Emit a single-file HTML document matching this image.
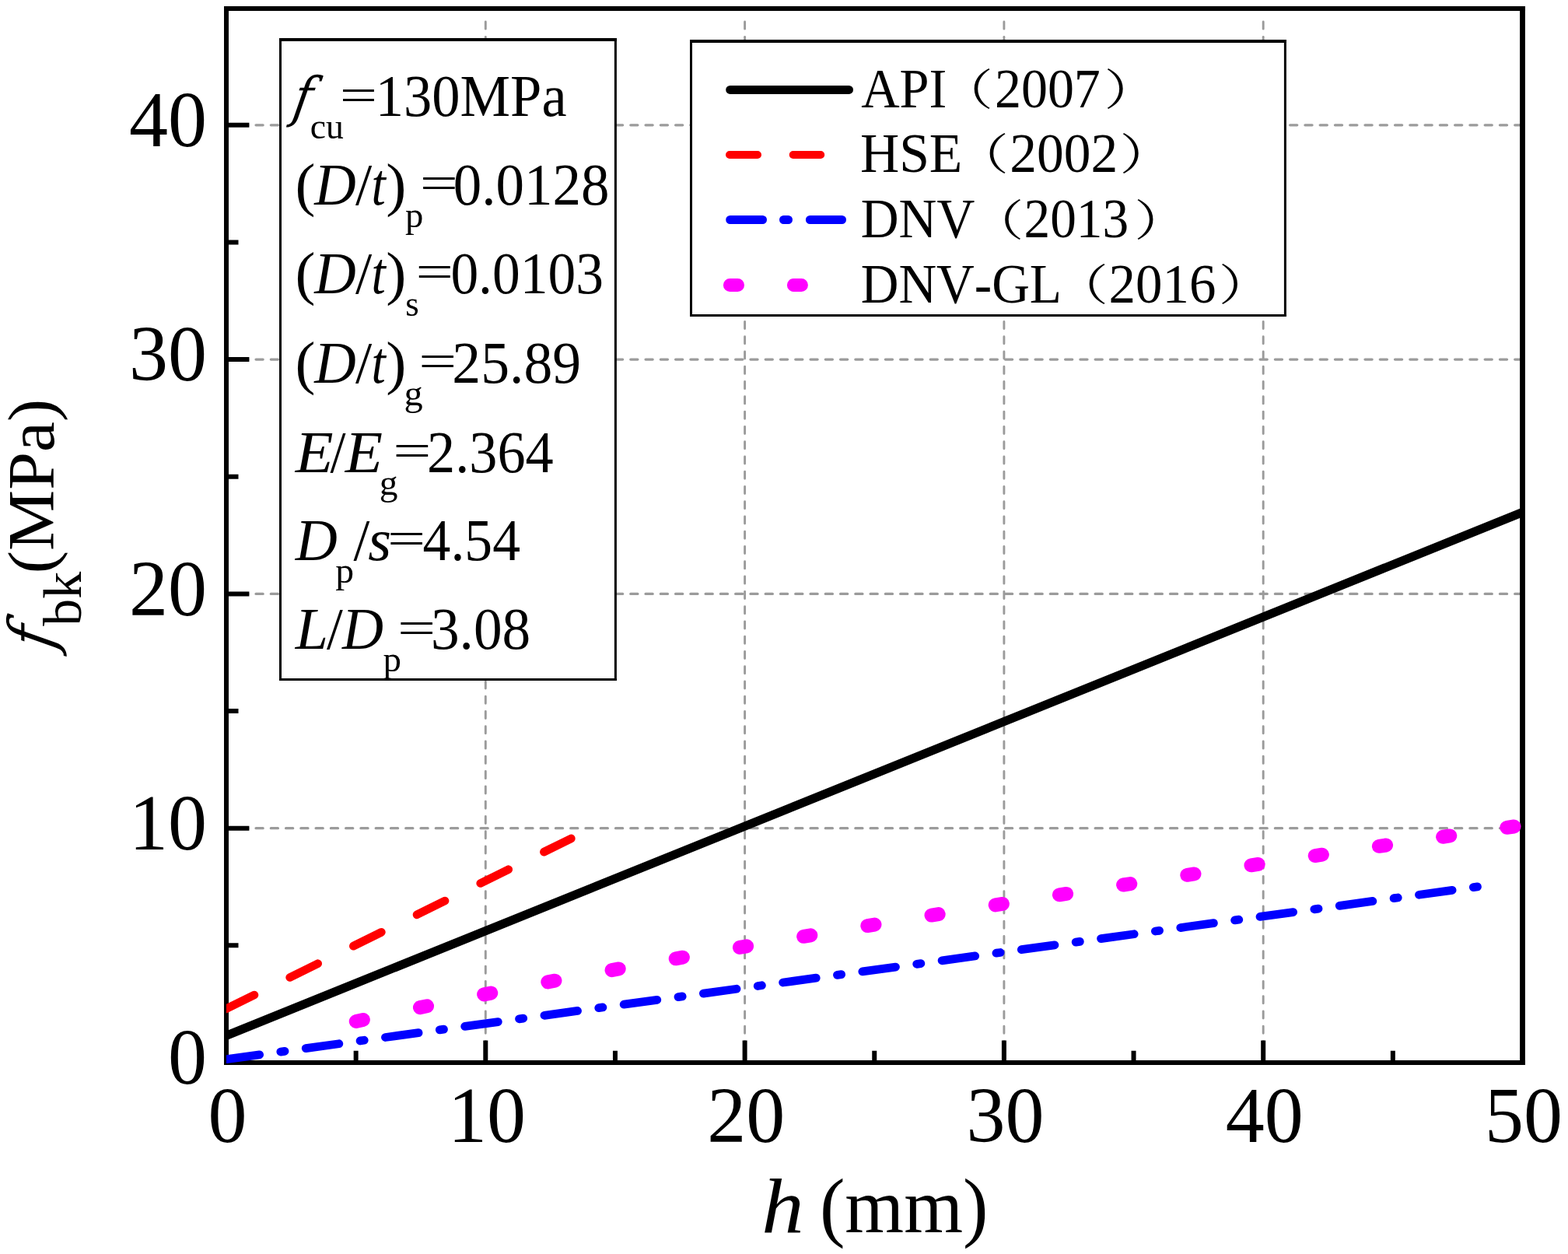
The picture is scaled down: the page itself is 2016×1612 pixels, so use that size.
<!DOCTYPE html>
<html><head><meta charset="utf-8"><title>f_bk vs h</title><style>html,body{margin:0;padding:0;background:#fff;width:2016px;height:1612px;overflow:hidden}</style></head><body>
<svg width="2016" height="1612" viewBox="0 0 2016 1612" style="position:absolute;left:0;top:0;font-family:'Liberation Serif','Times New Roman',serif;font-kerning:none">
<rect width="2016" height="1612" fill="#fff"/>
<g stroke="#9b9b9b" stroke-dasharray="9.1 10.17" stroke-dashoffset="-1.5" stroke-linecap="round" fill="none"><line x1="624.30" y1="1368.3" x2="624.30" y2="22" stroke-width="2.9"/><line x1="957.60" y1="1368.3" x2="957.60" y2="22" stroke-width="2.9"/><line x1="1290.90" y1="1368.3" x2="1290.90" y2="22" stroke-width="2.9"/><line x1="1624.20" y1="1368.3" x2="1624.20" y2="22" stroke-width="2.9"/><line x1="289" y1="1064.70" x2="1957.5" y2="1064.70" stroke-width="3.3"/><line x1="289" y1="763.40" x2="1957.5" y2="763.40" stroke-width="3.3"/><line x1="289" y1="462.10" x2="1957.5" y2="462.10" stroke-width="3.3"/><line x1="289" y1="160.80" x2="1957.5" y2="160.80" stroke-width="3.3"/></g>
<rect x="360.5" y="51.0" width="430.9" height="822.5" fill="#fff"/><g stroke="#000" fill="none"><line x1="359.0" y1="51.0" x2="792.9" y2="51.0" stroke-width="4.0"/><line x1="359.0" y1="873.5" x2="792.9" y2="873.5" stroke-width="3.0"/><line x1="360.5" y1="49.0" x2="360.5" y2="875.0" stroke-width="3.0"/><line x1="791.4" y1="49.0" x2="791.4" y2="875.0" stroke-width="3.0"/></g>
<rect x="888.5" y="53.0" width="763.9000000000001" height="352.4" fill="#fff"/><g stroke="#000" fill="none"><line x1="887.0" y1="53.0" x2="1653.9" y2="53.0" stroke-width="3.9"/><line x1="887.0" y1="405.4" x2="1653.9" y2="405.4" stroke-width="3.0"/><line x1="888.5" y1="51.05" x2="888.5" y2="406.9" stroke-width="3.0"/><line x1="1652.4" y1="51.05" x2="1652.4" y2="406.9" stroke-width="3.0"/></g>
<path d="M457.65 1366V1350.80 M624.30 1366V1337.50 M790.95 1366V1350.80 M957.60 1366V1337.50 M1124.25 1366V1350.80 M1290.90 1366V1337.50 M1457.55 1366V1350.80 M1624.20 1366V1337.50 M1790.85 1366V1350.80 M291 1215.35H306.50 M291 1064.70H320.40 M291 914.05H306.50 M291 763.40H320.40 M291 612.75H306.50 M291 462.10H320.40 M291 311.45H306.50 M291 160.80H320.40" stroke="#000" stroke-width="6" fill="none"/>
<g stroke="#000" fill="none"><path d="M288 11H1961M288 1366H1961" stroke-width="6"/><path d="M291 8V1369" stroke-width="6"/><path d="M1957.5 8V1369" stroke-width="6.8"/></g>
<clipPath id="cp"><rect x="291" y="0" width="1680" height="1400"/></clipPath>
<line x1="291" y1="1331.2" x2="1957.5" y2="658.5" stroke="#000" stroke-width="11.2" clip-path="url(#cp)"/>
<line x1="291" y1="1296.80" x2="734.3" y2="1077.94" stroke="#f00" stroke-width="10.7" stroke-dasharray="40.1 51" stroke-linecap="round" clip-path="url(#cp)"/>
<line x1="291" y1="1361.70" x2="1905" y2="1139.13" stroke="#00f" stroke-width="10.8" stroke-dasharray="43 27.5 5.2 27.5" stroke-linecap="round" clip-path="url(#cp)"/>
<path d="M457.76 1313.00L466.84 1310.95 M539.95 1295.11L549.05 1293.21 M622.14 1278.37L631.26 1276.57 M704.33 1262.44L713.47 1260.71 M786.53 1247.13L795.67 1245.46 M868.72 1232.31L877.88 1230.69 M950.92 1217.90L960.08 1216.32 M1033.11 1203.85L1042.29 1202.30 M1115.31 1190.09L1124.49 1188.58 M1197.51 1176.61L1206.69 1175.12 M1279.71 1163.37L1288.89 1161.90 M1361.91 1150.34L1371.09 1148.89 M1444.10 1137.50L1453.30 1136.08 M1526.30 1124.85L1535.50 1123.45 M1608.50 1112.36L1617.70 1110.97 M1690.70 1100.03L1699.90 1098.65 M1772.90 1087.83L1782.10 1086.48 M1855.10 1075.77L1864.30 1074.43 M1937.30 1063.83L1946.50 1062.50" stroke="#f0f" stroke-width="18" stroke-linecap="round" fill="none"/>
<line x1="938.7" y1="115.4" x2="1091.5" y2="115.4" stroke="#000" stroke-width="11" stroke-linecap="round"/>
<path d="M938 199H974M1019.7 199H1055.2" stroke="#f00" stroke-width="10" stroke-linecap="round"/>
<path d="M938.7 282.5H980.5M1007.5 282.5H1013.5M1041.4 282.5H1082.5" stroke="#00f" stroke-width="11" stroke-linecap="round"/>
<path d="M938.4 366.5H948.5M1020.4 366.5H1030.4" stroke="#f0f" stroke-width="17" stroke-linecap="round"/>
<g fill="#000"><text x="215.91" y="1393.30" font-size="101.50" font-style="normal" textLength="50.00" lengthAdjust="spacingAndGlyphs" >0</text>
<text x="165.91" y="1092.00" font-size="101.50" font-style="normal" textLength="100.00" lengthAdjust="spacingAndGlyphs" >10</text>
<text x="165.91" y="790.70" font-size="101.50" font-style="normal" textLength="100.00" lengthAdjust="spacingAndGlyphs" >20</text>
<text x="165.91" y="489.40" font-size="101.50" font-style="normal" textLength="100.00" lengthAdjust="spacingAndGlyphs" >30</text>
<text x="165.91" y="188.10" font-size="101.50" font-style="normal" textLength="100.00" lengthAdjust="spacingAndGlyphs" >40</text>
<text x="267.60" y="1467.60" font-size="101.50" font-style="normal" textLength="50.00" lengthAdjust="spacingAndGlyphs" >0</text>
<text x="575.90" y="1467.60" font-size="101.50" font-style="normal" textLength="100.00" lengthAdjust="spacingAndGlyphs" >10</text>
<text x="909.20" y="1467.60" font-size="101.50" font-style="normal" textLength="100.00" lengthAdjust="spacingAndGlyphs" >20</text>
<text x="1242.50" y="1467.60" font-size="101.50" font-style="normal" textLength="100.00" lengthAdjust="spacingAndGlyphs" >30</text>
<text x="1575.80" y="1467.60" font-size="101.50" font-style="normal" textLength="100.00" lengthAdjust="spacingAndGlyphs" >40</text>
<text x="1909.10" y="1467.60" font-size="101.50" font-style="normal" textLength="100.00" lengthAdjust="spacingAndGlyphs" >50</text>
<text x="979.37" y="1584.20" font-size="100.50" font-style="italic" textLength="54.34" lengthAdjust="spacingAndGlyphs" >h</text>
<text x="1053.92" y="1584.20" font-size="99.50" font-style="normal" textLength="216.46" lengthAdjust="spacingAndGlyphs" >(mm)</text>
<text x="1107.23" y="137.50" font-size="71.00" font-style="normal" textLength="110.17" lengthAdjust="spacingAndGlyphs" >API</text>
<text x="0" y="135.10" font-size="55.5" style="font-family:'Liberation Serif','Noto Serif CJK SC',serif" transform="translate(1207.54 0) scale(1.25 1)">（</text>
<text x="1278.91" y="137.50" font-size="71.00" font-style="normal" textLength="135.95" lengthAdjust="spacingAndGlyphs" >2007</text>
<text x="0" y="135.10" font-size="55.5" style="font-family:'Liberation Serif','Noto Serif CJK SC',serif" transform="translate(1419.43 0) scale(1.25 1)">）</text>
<text x="1105.90" y="220.50" font-size="71.00" font-style="normal" textLength="131.47" lengthAdjust="spacingAndGlyphs" >HSE</text>
<text x="0" y="218.10" font-size="55.5" style="font-family:'Liberation Serif','Noto Serif CJK SC',serif" transform="translate(1227.44 0) scale(1.25 1)">（</text>
<text x="1298.35" y="220.50" font-size="71.00" font-style="normal" textLength="138.78" lengthAdjust="spacingAndGlyphs" >2002</text>
<text x="0" y="218.10" font-size="55.5" style="font-family:'Liberation Serif','Noto Serif CJK SC',serif" transform="translate(1439.43 0) scale(1.25 1)">）</text>
<text x="1106.75" y="305.20" font-size="71.00" font-style="normal" textLength="146.51" lengthAdjust="spacingAndGlyphs" >DNV</text>
<text x="0" y="302.80" font-size="55.5" style="font-family:'Liberation Serif','Noto Serif CJK SC',serif" transform="translate(1247.04 0) scale(1.25 1)">（</text>
<text x="1316.54" y="305.20" font-size="71.00" font-style="normal" textLength="134.59" lengthAdjust="spacingAndGlyphs" >2013</text>
<text x="0" y="302.80" font-size="55.5" style="font-family:'Liberation Serif','Noto Serif CJK SC',serif" transform="translate(1458.23 0) scale(1.25 1)">）</text>
<text x="1106.76" y="388.80" font-size="71.00" font-style="normal" textLength="258.19" lengthAdjust="spacingAndGlyphs" >DNV-GL</text>
<text x="0" y="386.40" font-size="55.5" style="font-family:'Liberation Serif','Noto Serif CJK SC',serif" transform="translate(1355.44 0) scale(1.25 1)">（</text>
<text x="1425.57" y="388.80" font-size="71.00" font-style="normal" textLength="137.78" lengthAdjust="spacingAndGlyphs" >2016</text>
<text x="0" y="386.40" font-size="55.5" style="font-family:'Liberation Serif','Noto Serif CJK SC',serif" transform="translate(1566.83 0) scale(1.25 1)">）</text>
<g transform="translate(0 149.40) skewX(-9.85) translate(0 -149.40)"><text x="374.29" y="149.40" font-size="70.06" font-style="italic" style="font-family:'DejaVu Serif Condensed','DejaVu Serif','Liberation Serif',serif">f</text></g>
<text x="398.76" y="178.00" font-size="45.50" font-style="normal" textLength="43.12" lengthAdjust="spacingAndGlyphs" >cu</text>
<text x="436.83" y="0" transform="translate(0 142.69) scale(1 0.7948)" font-size="76.50" textLength="48.36" lengthAdjust="spacingAndGlyphs">=</text>
<text x="482.72" y="149.40" font-size="76.50" font-style="normal" textLength="245.87" lengthAdjust="spacingAndGlyphs" >130MPa</text>
<text x="379.48" y="262.50" font-size="76.50" font-style="normal" textLength="25.93" lengthAdjust="spacingAndGlyphs" >(</text>
<text x="404.13" y="262.50" font-size="76.50" font-style="italic" textLength="53.49" lengthAdjust="spacingAndGlyphs" >D</text>
<text x="457.10" y="262.50" font-size="76.50" font-style="normal" textLength="21.20" lengthAdjust="spacingAndGlyphs" >/</text>
<text x="477.51" y="262.50" font-size="76.50" font-style="italic" textLength="18.27" lengthAdjust="spacingAndGlyphs" >t</text>
<text x="496.27" y="262.50" font-size="76.50" font-style="normal" textLength="26.19" lengthAdjust="spacingAndGlyphs" >)</text>
<text x="520.95" y="292.00" font-size="45.50" font-style="normal" textLength="23.38" lengthAdjust="spacingAndGlyphs" >p</text>
<text x="539.65" y="0" transform="translate(0 255.79) scale(1 0.7948)" font-size="76.50" textLength="49.21" lengthAdjust="spacingAndGlyphs">=</text>
<text x="582.82" y="262.50" font-size="76.50" font-style="normal" textLength="200.76" lengthAdjust="spacingAndGlyphs" >0.0128</text>
<text x="379.48" y="376.50" font-size="76.50" font-style="normal" textLength="25.93" lengthAdjust="spacingAndGlyphs" >(</text>
<text x="404.13" y="376.50" font-size="76.50" font-style="italic" textLength="53.49" lengthAdjust="spacingAndGlyphs" >D</text>
<text x="457.10" y="376.50" font-size="76.50" font-style="normal" textLength="21.20" lengthAdjust="spacingAndGlyphs" >/</text>
<text x="477.51" y="376.50" font-size="76.50" font-style="italic" textLength="18.27" lengthAdjust="spacingAndGlyphs" >t</text>
<text x="496.27" y="376.50" font-size="76.50" font-style="normal" textLength="26.19" lengthAdjust="spacingAndGlyphs" >)</text>
<text x="521.26" y="406.00" font-size="45.50" font-style="normal" textLength="17.46" lengthAdjust="spacingAndGlyphs" >s</text>
<text x="534.52" y="0" transform="translate(0 369.79) scale(1 0.7948)" font-size="76.50" textLength="48.48" lengthAdjust="spacingAndGlyphs">=</text>
<text x="579.38" y="376.50" font-size="76.50" font-style="normal" textLength="196.51" lengthAdjust="spacingAndGlyphs" >0.0103</text>
<text x="379.48" y="491.50" font-size="76.50" font-style="normal" textLength="25.93" lengthAdjust="spacingAndGlyphs" >(</text>
<text x="404.13" y="491.50" font-size="76.50" font-style="italic" textLength="53.49" lengthAdjust="spacingAndGlyphs" >D</text>
<text x="457.10" y="491.50" font-size="76.50" font-style="normal" textLength="21.20" lengthAdjust="spacingAndGlyphs" >/</text>
<text x="477.51" y="491.50" font-size="76.50" font-style="italic" textLength="18.27" lengthAdjust="spacingAndGlyphs" >t</text>
<text x="496.27" y="491.50" font-size="76.50" font-style="normal" textLength="26.19" lengthAdjust="spacingAndGlyphs" >)</text>
<text x="519.62" y="521.00" font-size="45.50" font-style="normal" textLength="24.20" lengthAdjust="spacingAndGlyphs" >g</text>
<text x="538.18" y="0" transform="translate(0 484.79) scale(1 0.7948)" font-size="76.50" textLength="48.96" lengthAdjust="spacingAndGlyphs">=</text>
<text x="581.36" y="491.50" font-size="76.50" font-style="normal" textLength="165.66" lengthAdjust="spacingAndGlyphs" >25.89</text>
<text x="379.74" y="606.50" font-size="76.50" font-style="italic" textLength="48.85" lengthAdjust="spacingAndGlyphs" >E</text>
<text x="424.60" y="606.50" font-size="76.50" font-style="normal" textLength="20.00" lengthAdjust="spacingAndGlyphs" >/</text>
<text x="443.83" y="606.50" font-size="76.50" font-style="italic" textLength="48.25" lengthAdjust="spacingAndGlyphs" >E</text>
<text x="487.76" y="636.00" font-size="45.50" font-style="normal" textLength="23.74" lengthAdjust="spacingAndGlyphs" >g</text>
<text x="505.25" y="0" transform="translate(0 599.79) scale(1 0.7948)" font-size="76.50" textLength="49.21" lengthAdjust="spacingAndGlyphs">=</text>
<text x="549.12" y="606.50" font-size="76.50" font-style="normal" textLength="162.61" lengthAdjust="spacingAndGlyphs" >2.364</text>
<text x="379.64" y="720.00" font-size="76.50" font-style="italic" textLength="53.99" lengthAdjust="spacingAndGlyphs" >D</text>
<text x="431.33" y="749.20" font-size="45.50" font-style="normal" textLength="23.83" lengthAdjust="spacingAndGlyphs" >p</text>
<text x="454.40" y="720.00" font-size="76.50" font-style="normal" textLength="20.80" lengthAdjust="spacingAndGlyphs" >/</text>
<text x="473.26" y="720.00" font-size="76.50" font-style="italic" textLength="29.86" lengthAdjust="spacingAndGlyphs" >s</text>
<text x="497.95" y="0" transform="translate(0 713.29) scale(1 0.7948)" font-size="76.50" textLength="49.21" lengthAdjust="spacingAndGlyphs">=</text>
<text x="543.60" y="720.00" font-size="76.50" font-style="normal" textLength="125.42" lengthAdjust="spacingAndGlyphs" >4.54</text>
<text x="379.69" y="834.40" font-size="76.50" font-style="italic" textLength="42.20" lengthAdjust="spacingAndGlyphs" >L</text>
<text x="420.00" y="834.40" font-size="76.50" font-style="normal" textLength="20.80" lengthAdjust="spacingAndGlyphs" >/</text>
<text x="440.02" y="834.40" font-size="76.50" font-style="italic" textLength="52.99" lengthAdjust="spacingAndGlyphs" >D</text>
<text x="492.54" y="862.90" font-size="45.50" font-style="normal" textLength="23.49" lengthAdjust="spacingAndGlyphs" >p</text>
<text x="511.05" y="0" transform="translate(0 827.69) scale(1 0.7948)" font-size="76.50" textLength="49.21" lengthAdjust="spacingAndGlyphs">=</text>
<text x="553.99" y="834.40" font-size="76.50" font-style="normal" textLength="128.20" lengthAdjust="spacingAndGlyphs" >3.08</text>
<g transform="rotate(-90)"><g transform="translate(0 69.20) skewX(-10.28) translate(0 -69.20)"><text x="-836.42" y="69.20" font-size="80.49" font-style="italic" style="font-family:'DejaVu Serif Condensed','DejaVu Serif','Liberation Serif',serif">f</text></g><text x="-804.70" y="103.50" font-size="69.50" font-style="normal" textLength="70.00" lengthAdjust="spacingAndGlyphs" >bk</text><text x="-737.16" y="69.20" font-size="85.50" font-style="normal" textLength="224.32" lengthAdjust="spacingAndGlyphs" >(MPa)</text></g></g>
</svg>
</body></html>
